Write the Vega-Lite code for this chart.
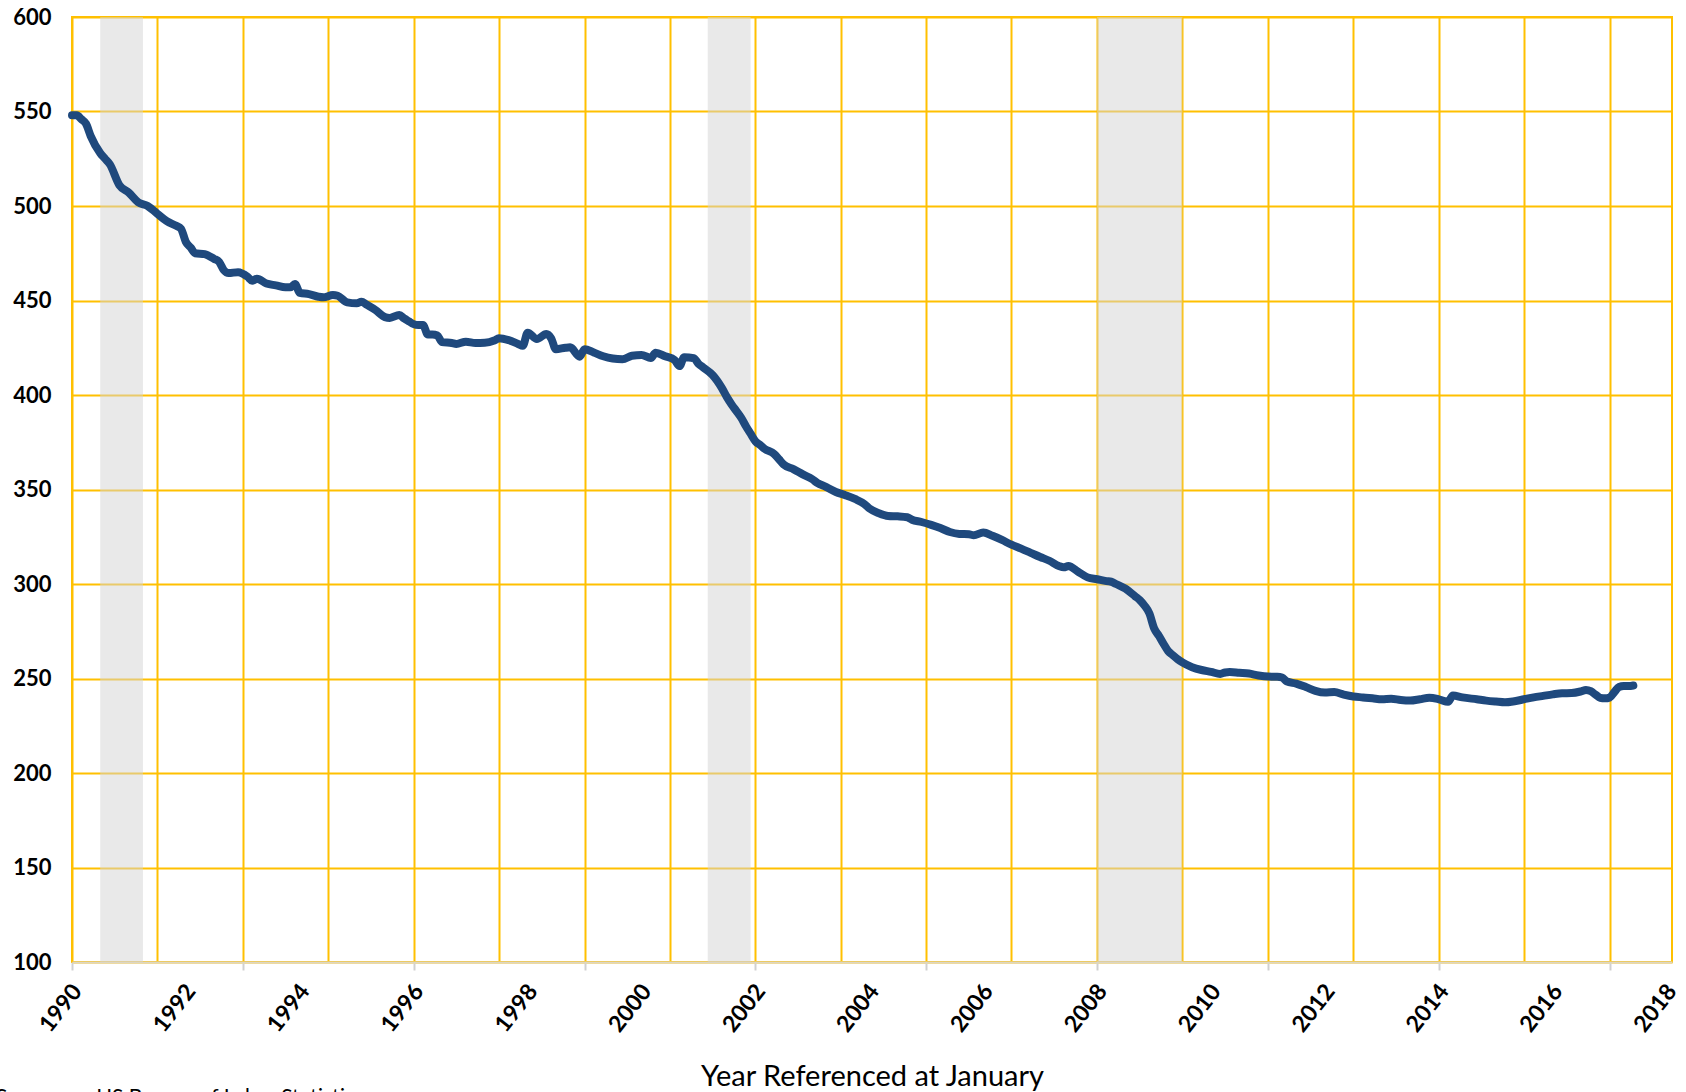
{
  "$schema": "https://vega.github.io/schema/vega-lite/v6.json",
  "width": 1600,
  "height": 945,
  "autosize": {"type": "none"},
  "padding": {"left": 72, "top": 17, "right": 14, "bottom": 130},
  "background": "white",
  "title": {
    "text": "Source:\u00a0\u00a0\u00a0\u00a0\u00a0\u00a0US Bureau of Labor Statistics",
    "orient": "bottom",
    "anchor": "start",
    "frame": "group",
    "offset": 0,
    "dx": -76,
    "dy": -4,
    "fontSize": 21,
    "fontWeight": "normal",
    "font": "Lato",
    "color": "black"
  },
  "config": {
    "font": "Lato",
    "view": {"stroke": "#FFC000", "strokeWidth": 2}
  },
  "datasets": {
    "recessions": [
      {"start": "1990-07-01", "end": "1991-04-01"},
      {"start": "2001-03-01", "end": "2001-12-01"},
      {"start": "2008-01-01", "end": "2009-07-01"}
    ],
    "series": [
      {"d": "1990-01-01", "v": 548}, {"d": "1990-02-01", "v": 548}, {"d": "1990-03-01", "v": 546}, {"d": "1990-04-01", "v": 543.5},
      {"d": "1990-05-01", "v": 537}, {"d": "1990-07-01", "v": 528}, {"d": "1990-08-01", "v": 525}, {"d": "1990-09-01", "v": 522},
      {"d": "1990-11-01", "v": 511}, {"d": "1991-01-01", "v": 507}, {"d": "1991-03-01", "v": 502}, {"d": "1991-05-01", "v": 500},
      {"d": "1991-07-01", "v": 496}, {"d": "1991-09-01", "v": 492}, {"d": "1991-11-01", "v": 489.5}, {"d": "1991-12-01", "v": 488},
      {"d": "1992-01-01", "v": 481}, {"d": "1992-02-01", "v": 478}, {"d": "1992-03-01", "v": 475}, {"d": "1992-05-01", "v": 474.5},
      {"d": "1992-07-01", "v": 472}, {"d": "1992-08-01", "v": 470.5}, {"d": "1992-09-01", "v": 466}, {"d": "1992-10-01", "v": 464.5},
      {"d": "1992-12-01", "v": 465}, {"d": "1993-02-01", "v": 462.5}, {"d": "1993-03-01", "v": 460.5}, {"d": "1993-04-01", "v": 461.5},
      {"d": "1993-06-01", "v": 459}, {"d": "1993-08-01", "v": 458}, {"d": "1993-10-01", "v": 457}, {"d": "1993-11-01", "v": 457},
      {"d": "1993-12-01", "v": 458.7}, {"d": "1994-01-01", "v": 454}, {"d": "1994-03-01", "v": 453.4}, {"d": "1994-05-01", "v": 452},
      {"d": "1994-06-01", "v": 451.7}, {"d": "1994-08-01", "v": 452.9}, {"d": "1994-09-01", "v": 452.5}, {"d": "1994-11-01", "v": 449},
      {"d": "1995-01-01", "v": 448.5}, {"d": "1995-02-01", "v": 449.4}, {"d": "1995-03-01", "v": 448}, {"d": "1995-05-01", "v": 445},
      {"d": "1995-07-01", "v": 441.2}, {"d": "1995-08-01", "v": 440.8}, {"d": "1995-10-01", "v": 442.3}, {"d": "1995-11-01", "v": 440.5},
      {"d": "1995-12-01", "v": 439}, {"d": "1996-01-01", "v": 437.5}, {"d": "1996-02-01", "v": 437}, {"d": "1996-03-01", "v": 437},
      {"d": "1996-04-01", "v": 432}, {"d": "1996-05-01", "v": 432}, {"d": "1996-06-01", "v": 431.5}, {"d": "1996-07-01", "v": 428},
      {"d": "1996-09-01", "v": 427.5}, {"d": "1996-10-01", "v": 427}, {"d": "1996-12-01", "v": 428.2}, {"d": "1997-02-01", "v": 427.5},
      {"d": "1997-04-01", "v": 427.6}, {"d": "1997-06-01", "v": 428.8}, {"d": "1997-07-01", "v": 430}, {"d": "1997-09-01", "v": 429},
      {"d": "1997-11-01", "v": 427}, {"d": "1997-12-01", "v": 426}, {"d": "1998-01-01", "v": 433}, {"d": "1998-03-01", "v": 429.6},
      {"d": "1998-05-01", "v": 432.3}, {"d": "1998-06-01", "v": 430}, {"d": "1998-07-01", "v": 424.2}, {"d": "1998-09-01", "v": 425},
      {"d": "1998-10-01", "v": 425.2}, {"d": "1998-12-01", "v": 420.3}, {"d": "1999-01-01", "v": 424.2}, {"d": "1999-03-01", "v": 422.5},
      {"d": "1999-05-01", "v": 420.5}, {"d": "1999-07-01", "v": 419.3}, {"d": "1999-09-01", "v": 418.9}, {"d": "1999-11-01", "v": 420.8},
      {"d": "2000-01-01", "v": 421.2}, {"d": "2000-03-01", "v": 419.6}, {"d": "2000-04-01", "v": 422.4}, {"d": "2000-06-01", "v": 420.5},
      {"d": "2000-08-01", "v": 418.5}, {"d": "2000-09-01", "v": 415.3}, {"d": "2000-10-01", "v": 420}, {"d": "2000-12-01", "v": 419.5},
      {"d": "2001-01-01", "v": 416.5}, {"d": "2001-02-01", "v": 414.5}, {"d": "2001-04-01", "v": 410.6}, {"d": "2001-05-01", "v": 407.5},
      {"d": "2001-06-01", "v": 403.5}, {"d": "2001-07-01", "v": 399}, {"d": "2001-08-01", "v": 395}, {"d": "2001-09-01", "v": 391.5},
      {"d": "2001-10-01", "v": 388}, {"d": "2001-11-01", "v": 383.5}, {"d": "2001-12-01", "v": 379.5}, {"d": "2002-01-01", "v": 375.5},
      {"d": "2002-02-01", "v": 373.5}, {"d": "2002-03-01", "v": 371.5}, {"d": "2002-05-01", "v": 368.8}, {"d": "2002-06-01", "v": 366},
      {"d": "2002-07-01", "v": 363.2}, {"d": "2002-09-01", "v": 360.8}, {"d": "2002-11-01", "v": 358}, {"d": "2003-01-01", "v": 355.4},
      {"d": "2003-02-01", "v": 353.5}, {"d": "2003-04-01", "v": 351.3}, {"d": "2003-06-01", "v": 348.7}, {"d": "2003-08-01", "v": 347},
      {"d": "2003-10-01", "v": 345}, {"d": "2003-12-01", "v": 342.3}, {"d": "2004-01-01", "v": 340}, {"d": "2004-03-01", "v": 337.5},
      {"d": "2004-05-01", "v": 336}, {"d": "2004-07-01", "v": 335.8}, {"d": "2004-09-01", "v": 335.3}, {"d": "2004-10-01", "v": 334},
      {"d": "2004-12-01", "v": 332.8}, {"d": "2005-02-01", "v": 331.3}, {"d": "2005-04-01", "v": 329.6}, {"d": "2005-06-01", "v": 327.5},
      {"d": "2005-08-01", "v": 326.5}, {"d": "2005-10-01", "v": 326.3}, {"d": "2005-11-01", "v": 325.8}, {"d": "2006-01-01", "v": 327.2},
      {"d": "2006-03-01", "v": 325.5}, {"d": "2006-05-01", "v": 323.3}, {"d": "2006-07-01", "v": 320.8}, {"d": "2006-09-01", "v": 318.7},
      {"d": "2006-11-01", "v": 316.5}, {"d": "2007-01-01", "v": 314.3}, {"d": "2007-03-01", "v": 312.3}, {"d": "2007-05-01", "v": 309.5},
      {"d": "2007-06-01", "v": 308.8}, {"d": "2007-07-01", "v": 309.5}, {"d": "2007-09-01", "v": 306.5}, {"d": "2007-11-01", "v": 303.5},
      {"d": "2008-01-01", "v": 302.5}, {"d": "2008-03-01", "v": 301.5}, {"d": "2008-04-01", "v": 301.2}, {"d": "2008-05-01", "v": 300},
      {"d": "2008-07-01", "v": 297.5}, {"d": "2008-09-01", "v": 293.5}, {"d": "2008-10-01", "v": 291.5}, {"d": "2008-11-01", "v": 288.5},
      {"d": "2008-12-01", "v": 284.5}, {"d": "2009-01-01", "v": 276.5}, {"d": "2009-02-01", "v": 272.5}, {"d": "2009-03-01", "v": 268.5},
      {"d": "2009-04-01", "v": 264.5}, {"d": "2009-05-01", "v": 262.3}, {"d": "2009-06-01", "v": 260.2}, {"d": "2009-07-01", "v": 258.5},
      {"d": "2009-09-01", "v": 256}, {"d": "2009-11-01", "v": 254.5}, {"d": "2010-01-01", "v": 253.5}, {"d": "2010-03-01", "v": 252.4},
      {"d": "2010-04-01", "v": 253.2}, {"d": "2010-05-01", "v": 253.4}, {"d": "2010-07-01", "v": 253}, {"d": "2010-09-01", "v": 252.6},
      {"d": "2010-11-01", "v": 251.6}, {"d": "2011-01-01", "v": 251}, {"d": "2011-03-01", "v": 250.9}, {"d": "2011-04-01", "v": 250.5},
      {"d": "2011-05-01", "v": 248.5}, {"d": "2011-07-01", "v": 247.3}, {"d": "2011-09-01", "v": 245.5}, {"d": "2011-11-01", "v": 243.5},
      {"d": "2012-01-01", "v": 242.6}, {"d": "2012-03-01", "v": 242.8}, {"d": "2012-05-01", "v": 241.5}, {"d": "2012-07-01", "v": 240.5},
      {"d": "2012-09-01", "v": 240}, {"d": "2012-11-01", "v": 239.5}, {"d": "2013-01-01", "v": 239}, {"d": "2013-03-01", "v": 239.3},
      {"d": "2013-05-01", "v": 238.6}, {"d": "2013-07-01", "v": 238.3}, {"d": "2013-09-01", "v": 239}, {"d": "2013-11-01", "v": 239.8},
      {"d": "2014-01-01", "v": 239}, {"d": "2014-03-01", "v": 237.7}, {"d": "2014-04-01", "v": 241}, {"d": "2014-06-01", "v": 240},
      {"d": "2014-09-01", "v": 239}, {"d": "2014-11-01", "v": 238.3}, {"d": "2015-01-01", "v": 237.8}, {"d": "2015-03-01", "v": 237.4},
      {"d": "2015-05-01", "v": 238}, {"d": "2015-07-01", "v": 239}, {"d": "2015-09-01", "v": 240}, {"d": "2015-11-01", "v": 240.8},
      {"d": "2016-01-01", "v": 241.6}, {"d": "2016-03-01", "v": 242.2}, {"d": "2016-05-01", "v": 242.3}, {"d": "2016-07-01", "v": 243.2},
      {"d": "2016-08-01", "v": 243.9}, {"d": "2016-09-01", "v": 243.3}, {"d": "2016-10-01", "v": 241.5}, {"d": "2016-11-01", "v": 239.8},
      {"d": "2016-12-01", "v": 239.5}, {"d": "2017-01-01", "v": 240}, {"d": "2017-02-01", "v": 243}, {"d": "2017-03-01", "v": 245.5},
      {"d": "2017-04-01", "v": 246}, {"d": "2017-05-01", "v": 246}, {"d": "2017-06-01", "v": 246.3}
    ]
  },
  "layer": [
    {
      "data": {"name": "recessions"},
      "mark": {"type": "rect", "color": "#D4D4D4", "opacity": 0.5},
      "encoding": {
        "x": {"field": "start", "type": "temporal", "title": "Year Referenced at January"},
        "x2": {"field": "end"}
      }
    },
    {
      "data": {"name": "series"},
      "mark": {"type": "line", "color": "#1F497D", "strokeWidth": 8, "strokeCap": "round", "strokeJoin": "round", "interpolate": "monotone"},
      "encoding": {
        "x": {
          "field": "d",
          "type": "temporal",
          "scale": {
            "type": "utc",
            "domain": [
              {"year": 1990, "month": 1, "date": 1, "utc": true},
              {"year": 2018, "month": 2, "date": 4, "utc": true}
            ]
          },
          "axis": {
            "title": "Year Referenced at January",
            "titleFont": "Lato",
            "titleFontSize": 29,
            "titleFontWeight": "normal",
            "titleColor": "black",
            "titlePadding": 26,
            "tickCount": {"interval": "month", "step": 6},
            "labelExpr": "((utcyear(datum.value)-1990)*12+utcmonth(datum.value)) % 24 === 0 ? utcFormat(datum.value, '%Y') : ''",
            "labelAngle": -52,
            "labelAlign": "right",
            "labelBaseline": "middle",
            "labelPadding": 17,
            "labelOffset": 5,
            "labelOverlap": false,
            "labelBound": false,
            "labelFlush": false,
            "labelFont": "Lato",
            "labelFontSize": 23,
            "labelFontWeight": "bold",
            "labelColor": "black",
            "grid": true,
            "gridColor": "#FFC000",
            "gridWidth": 2,
            "gridOpacity": {"condition": {"test": "((utcyear(datum.value)-1990)*12+utcmonth(datum.value)) % 18 === 0", "value": 1}, "value": 0},
            "ticks": true,
            "tickColor": "#D0D0D0",
            "tickWidth": 2,
            "tickSize": 8,
            "tickOpacity": {"condition": {"test": "((utcyear(datum.value)-1990)*12+utcmonth(datum.value)) % 36 === 0", "value": 1}, "value": 0},
            "domain": true,
            "domainColor": "#DCD6C4",
            "domainWidth": 2
          }
        },
        "y": {
          "field": "v",
          "type": "quantitative",
          "scale": {"domain": [100, 600], "nice": false, "zero": false},
          "axis": {
            "title": null,
            "values": [100, 150, 200, 250, 300, 350, 400, 450, 500, 550, 600],
            "grid": true,
            "gridColor": "#FFC000",
            "gridWidth": 2,
            "ticks": false,
            "domain": false,
            "labelPadding": 21,
            "labelFont": "Lato",
            "labelFontSize": 22,
            "labelFontWeight": "bold",
            "labelColor": "black"
          }
        }
      }
    }
  ]
}
